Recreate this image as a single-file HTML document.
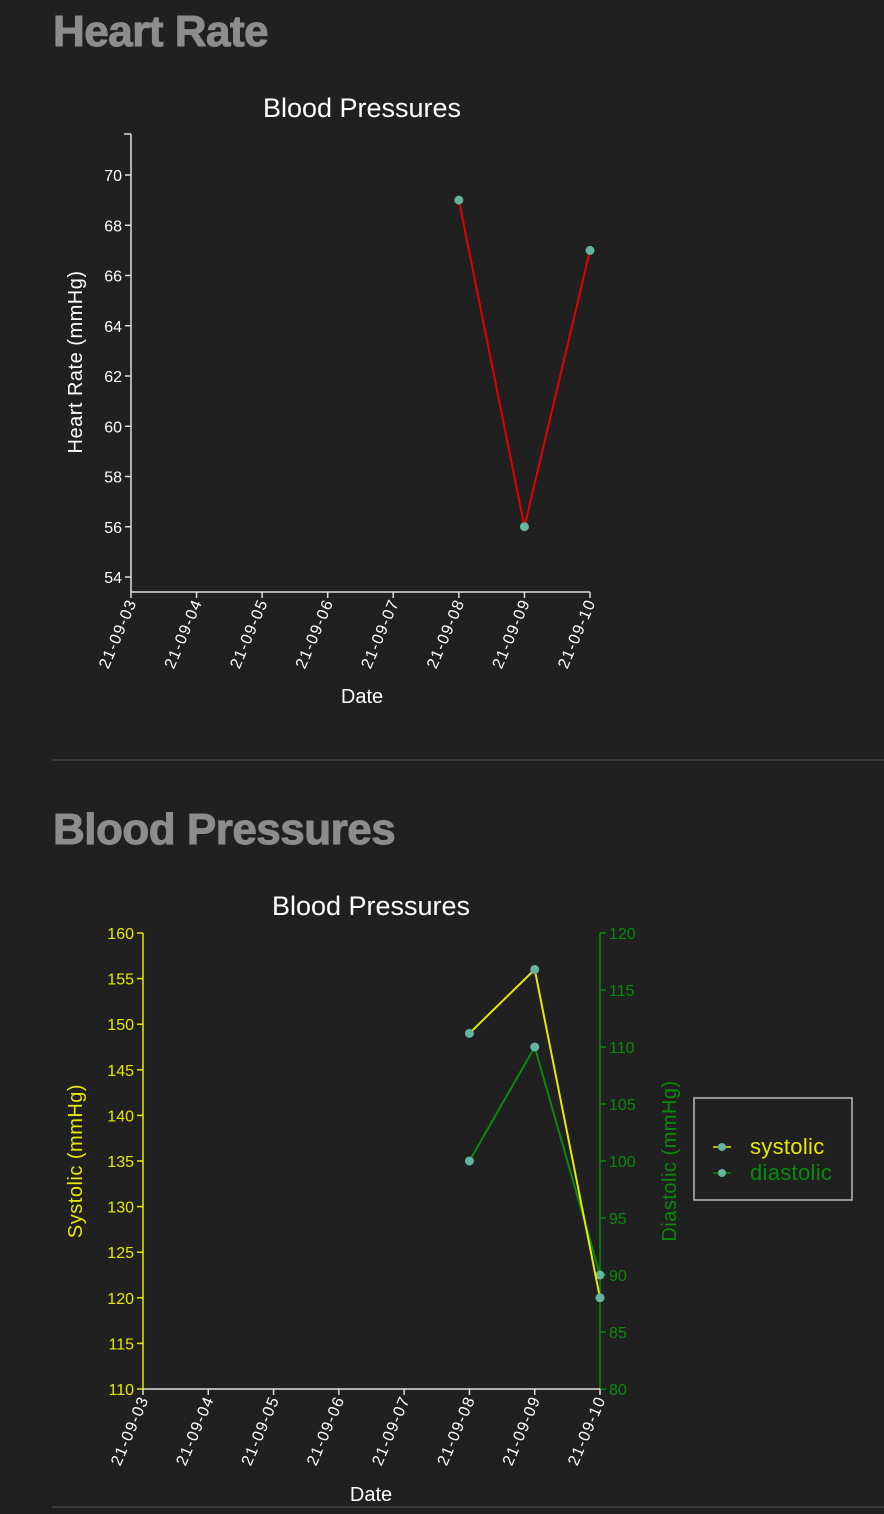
<!DOCTYPE html>
<html><head><meta charset="utf-8"><style>
html,body{margin:0;padding:0;background:#202020;width:884px;height:1514px;overflow:hidden;font-family:"Liberation Sans",sans-serif}
h2{position:absolute;margin:0;color:#8c8c8c;font-weight:900;font-size:44px;letter-spacing:-0.5px;left:53px;-webkit-text-stroke:1px #8c8c8c}
svg{position:absolute;left:0;top:0}
</style></head><body>
<h2 style="top:7px">Heart Rate</h2>
<h2 style="top:805px">Blood Pressures</h2>
<svg id="s" width="884" height="1514">
<line x1="52" y1="760" x2="884" y2="760" stroke="#3a3a3a" stroke-width="2"/>
<line x1="52" y1="1507" x2="884" y2="1507" stroke="#3a3a3a" stroke-width="2"/>
</svg>
<script>
const dates=["21-09-03","21-09-04","21-09-05","21-09-06","21-09-07","21-09-08","21-09-09","21-09-10"];
const hrDates=["21-09-08","21-09-09","21-09-10"];
const hrValues=[69,56,67];
const hrTicks=[54,56,58,60,62,64,66,68,70];
const bpDates=["21-09-08","21-09-09","21-09-10"];
const systolic=[149,156,120];
const diastolic=[100,110,90];
const sysTicks=[110,115,120,125,130,135,140,145,150,155,160];
const diaTicks=[80,85,90,95,100,105,110,115,120];

const svg=document.getElementById('s');
const NS='http://www.w3.org/2000/svg';
function el(tag,attrs,parent,text){const e=document.createElementNS(NS,tag);for(const k in attrs)e.setAttribute(k,attrs[k]);if(text!==undefined)e.textContent=text;(parent||svg).appendChild(e);return e;}
function lin(d0,d1,r0,r1){return v=>r0+(v-d0)/(d1-d0)*(r1-r0);}

function xAxis(g,x,y0,color){
  el('line',{x1:x(0),y1:y0,x2:x(dates.length-1),y2:y0,stroke:color,'stroke-width':1.5},g);
  dates.forEach((d,i)=>{
    el('line',{x1:x(i),y1:y0,x2:x(i),y2:y0+6,stroke:color,'stroke-width':1.5},g);
    const t=el('text',{x:0,y:0,fill:'#fff','font-size':16,'letter-spacing':1.2,'text-anchor':'end',transform:`translate(${x(i)+6},${y0+10}) rotate(-67)`},g,d);
    
    
  });
}
function yAxis(g,x0,y,ticks,color,right,y0,y1,lc){
  el('line',{x1:x0,y1:y0,x2:x0,y2:y1,stroke:color,'stroke-width':1.5},g);
  ticks.forEach(v=>{
    el('line',{x1:x0,y1:y(v),x2:x0+(right?6:-6),y2:y(v),stroke:color,'stroke-width':1.5},g);
    const t=el('text',{x:x0+(right?9:-9),y:y(v)+6,fill:lc||color,'font-size':16,'text-anchor':right?'start':'end'},g,v);
    
    
  });
}
function series(g,xs,ys,x,y,color,name){
  const pts=xs.map((d,i)=>[x(dates.indexOf(d)),y(ys[i])]);
  const p=el('polyline',{points:pts.map(p=>p.join(',')).join(' '),fill:'none',stroke:color,'stroke-width':2},g);
  
  
  pts.forEach(q=>{const c=el('circle',{cx:q[0],cy:q[1],r:4.5,fill:'#66b3a0'},g);
    
    });
}

// Chart 1
const g1=el('g',{});


const x1=lin(0,7,131,590);
const y1=lin(54,70,577,175);
el('text',{x:362,y:117,fill:'#fff','font-size':27,'text-anchor':'middle'},g1,'Blood Pressures');
yAxis(g1,131,y1,hrTicks,'#ddd',false,134,592,'#fff');
el('line',{x1:124,y1:134,x2:131,y2:134,stroke:'#ddd','stroke-width':1.5},g1);
xAxis(g1,x1,592,'#ddd');
el('text',{x:0,y:0,fill:'#fff','font-size':20,'letter-spacing':0.5,'text-anchor':'middle',transform:'translate(82,362) rotate(-90)'},g1,'Heart Rate (mmHg)');
el('text',{x:362,y:703,fill:'#fff','font-size':20,'text-anchor':'middle'},g1,'Date');
series(g1,hrDates,hrValues,x1,y1,'#e00000','heart-rate');

// Chart 2
const g2=el('g',{});


const x2=lin(0,7,143,600);
const ys=lin(110,160,1389,933);
const yd=lin(80,120,1389,933);
el('text',{x:371,y:915,fill:'#fff','font-size':27,'text-anchor':'middle'},g2,'Blood Pressures');
yAxis(g2,143,ys,sysTicks,'#e8e800',false,933,1389);
yAxis(g2,600,yd,diaTicks,'#0a8a0a',true,933,1389);
xAxis(g2,x2,1389,'#ddd');
el('text',{x:0,y:0,fill:'#e8e800','font-size':20,'letter-spacing':0.5,'text-anchor':'middle',transform:'translate(82,1161) rotate(-90)'},g2,'Systolic (mmHg)');
el('text',{x:0,y:0,fill:'#0a8a0a','font-size':20,'letter-spacing':0.5,'text-anchor':'middle',transform:'translate(676,1161) rotate(-90)'},g2,'Diastolic (mmHg)');
el('text',{x:371,y:1501,fill:'#fff','font-size':20,'text-anchor':'middle'},g2,'Date');
series(g2,bpDates,diastolic,x2,yd,'#0a8a0a','diastolic');
series(g2,bpDates,systolic,x2,ys,'#e8e800','systolic');

// Legend
const lg=el('g',{});


el('rect',{x:694,y:1098,width:158,height:102,fill:'none',stroke:'#bbb','stroke-width':1.5},lg);
[['systolic','#e8e800',1147],['diastolic','#0a8a0a',1173]].forEach(([n,c,y])=>{
  const li=el('g',{},lg);
  
  
  el('line',{x1:713,y1:y,x2:731,y2:y,stroke:c,'stroke-width':1.5},li);
  el('circle',{cx:722,cy:y,r:4,fill:'#66b3a0'},li);
  el('text',{x:750,y:y+7,fill:c,'font-size':22,'letter-spacing':0.3},li,n);
});
</script>
</body></html>
